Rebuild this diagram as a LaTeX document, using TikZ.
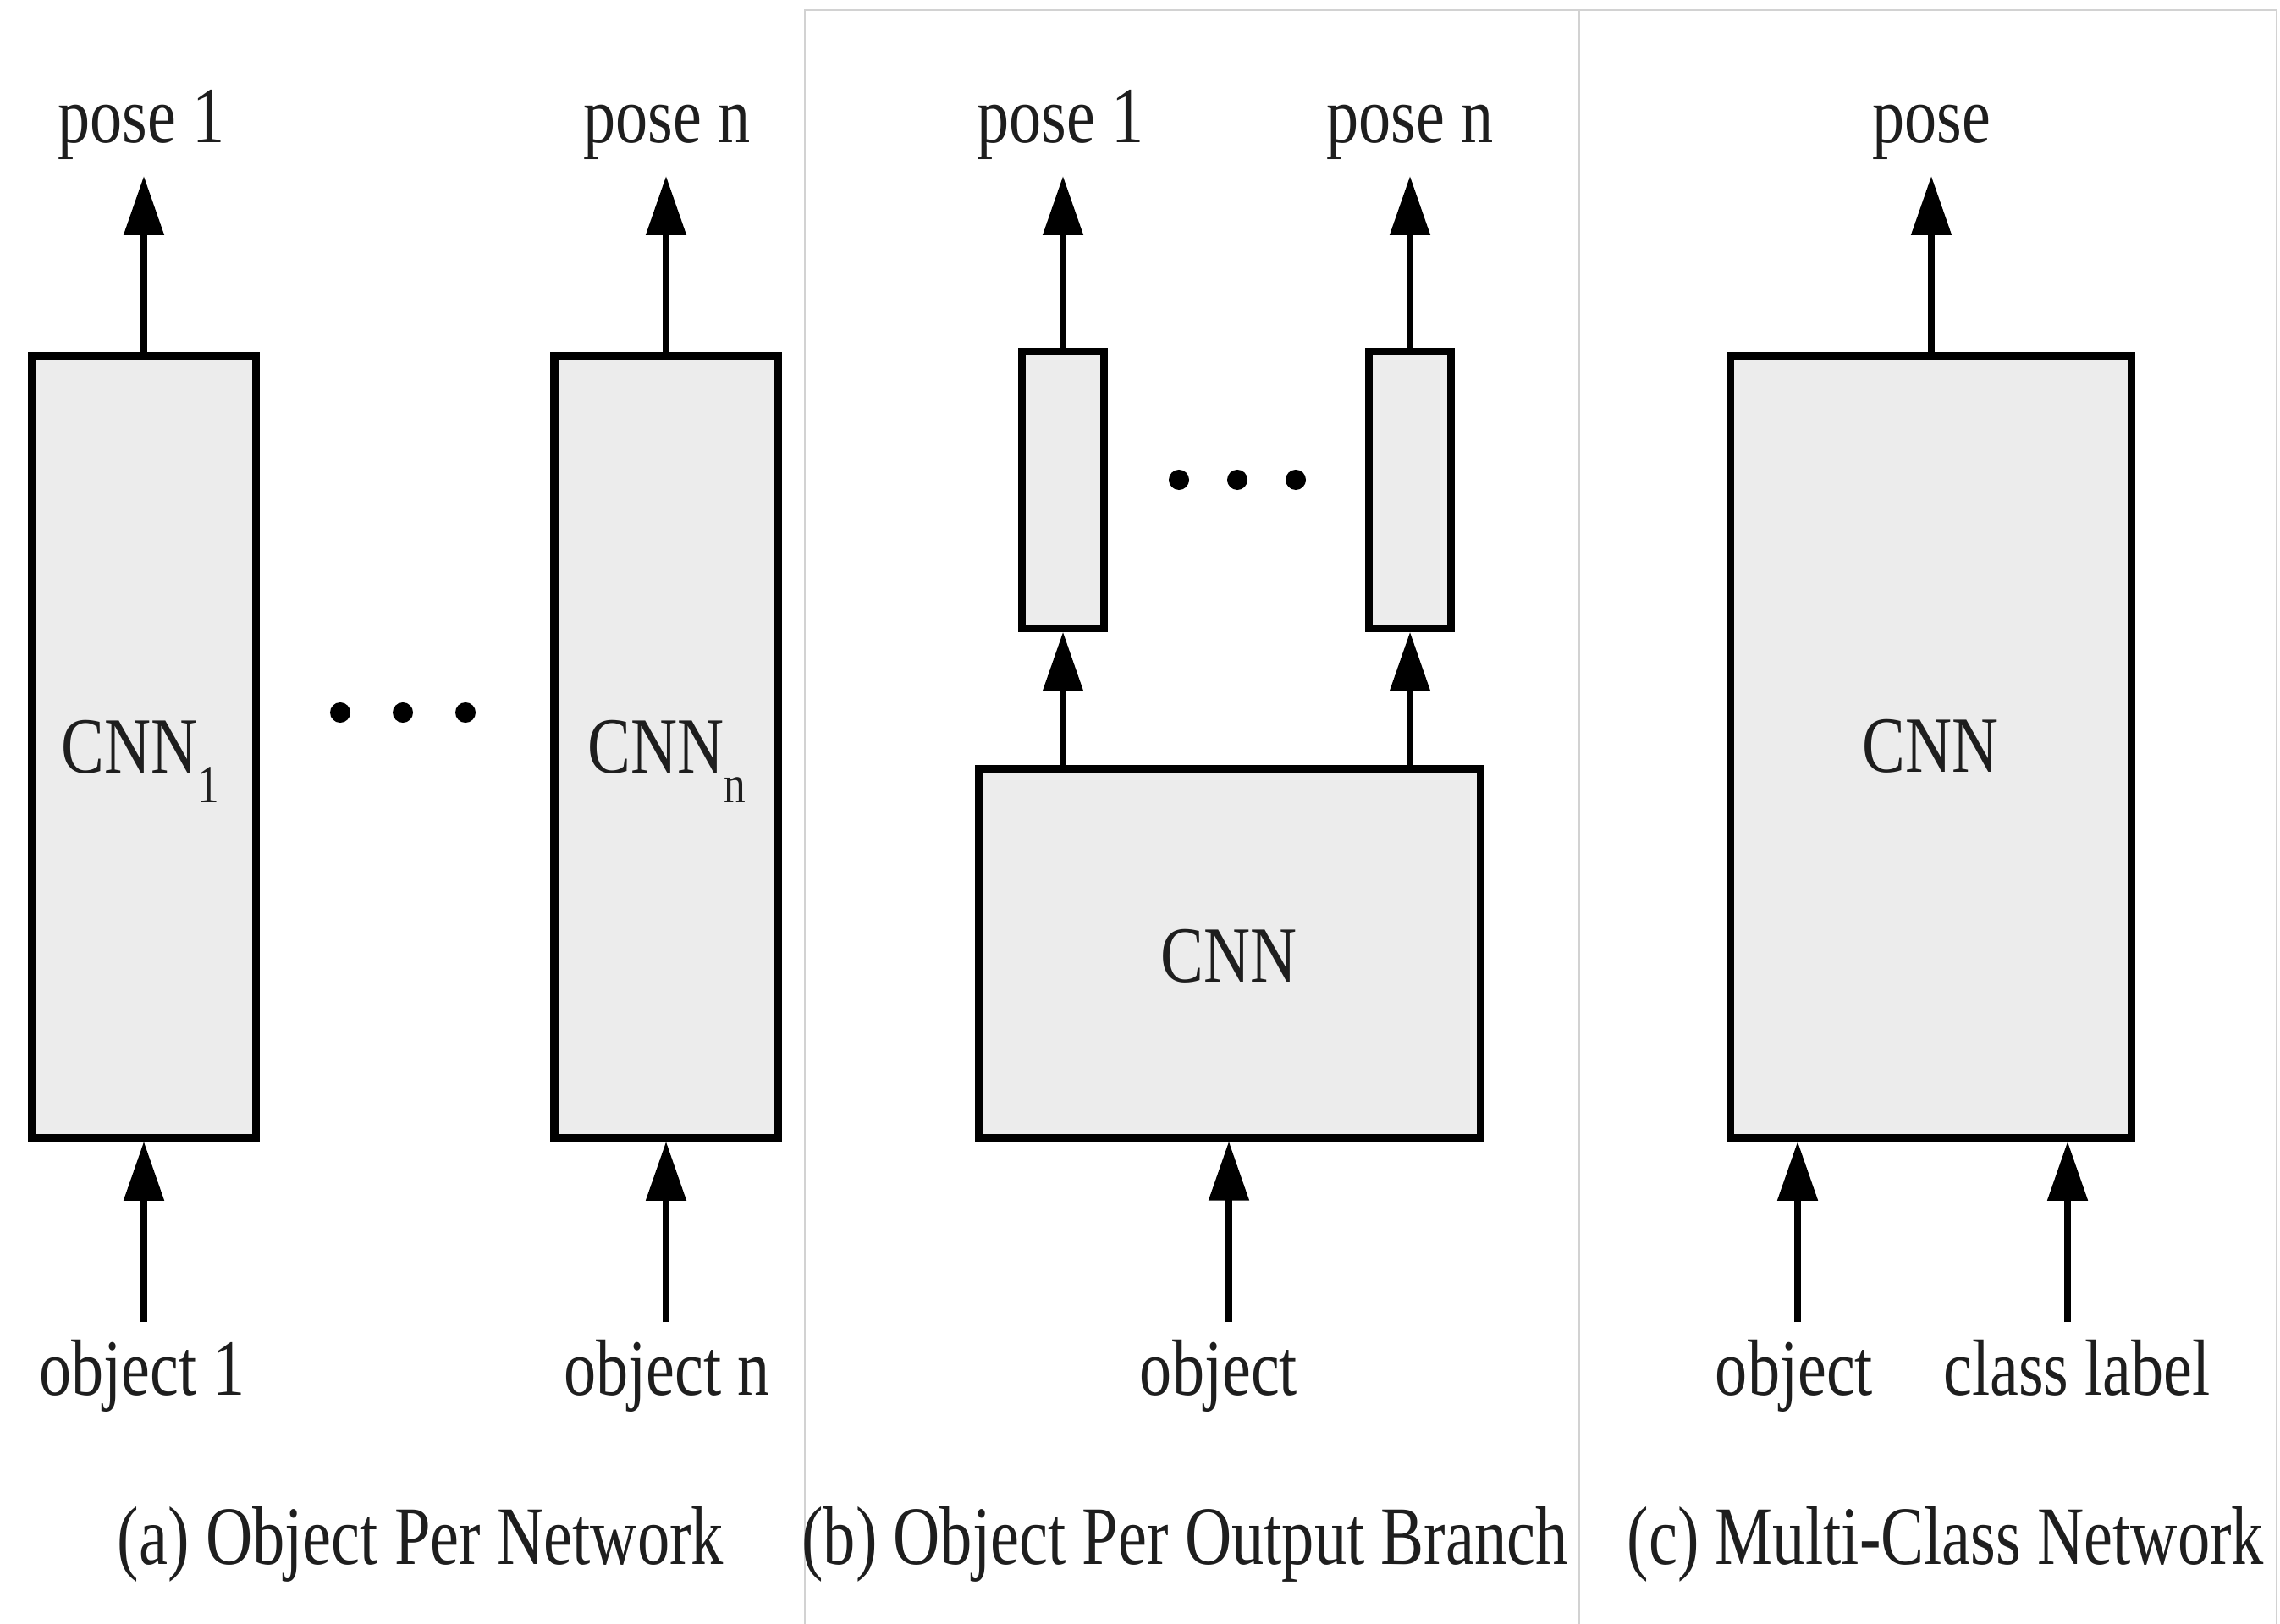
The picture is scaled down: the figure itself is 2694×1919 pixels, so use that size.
\documentclass[tikz,border=0pt]{standalone}
\usepackage{fontspec}
\setmainfont{Liberation Serif}
\newfontfamily\labelserif[FakeStretch=0.81]{Liberation Serif}
\newfontfamily\captionserif[FakeStretch=0.78]{Liberation Serif}
\usetikzlibrary{arrows.meta}
\definecolor{boxfill}{HTML}{ECECEC}
\definecolor{framegray}{HTML}{D2D2D2}
\definecolor{ink}{HTML}{1E1E1E}

\begin{document}
\begin{tikzpicture}[x=0.01cm,y=-0.01cm,
  netbox/.style={draw=black, fill=boxfill, line width=2.6pt, inner sep=0pt},
  flow/.style={line width=2.3pt, -{Triangle[length=19.9pt,width=13.1pt]}},
  lbl/.style={inner sep=0pt, anchor=base, text=ink,
    font=\labelserif\fontsize{26.75}{30}\selectfont},
  subcaption/.style={inner sep=0pt, anchor=base, text=ink,
    font=\captionserif\fontsize{27.9}{32}\selectfont},
  dotmark/.style={circle, fill=black, inner sep=0pt, minimum size=0.24cm},
  panelframe/.style={draw=framegray, line width=0.6pt}]

\useasboundingbox (0,0) rectangle (2694,1919);

% panel frames (b) and (c)
\draw[panelframe] (951,1919) -- (951,12) -- (1866,12) -- (1866,1919);
\draw[panelframe] (1866,12) -- (2690,12) -- (2690,1919);

% ---------- (a) one network per object ----------
\node[netbox, minimum width=2.64cm, minimum height=9.23cm] (a1) at (170,882.5) {};
\node[netbox, minimum width=2.64cm, minimum height=9.23cm] (an) at (787,882.5) {};
\node[lbl] (a1t) at (166,913) {CNN\raisebox{-10pt}{\fontsize{18}{18}\selectfont 1}};
\node[lbl] (ant) at (788,913) {CNN\raisebox{-10pt}{\fontsize{18}{18}\selectfont n}};
\node[dotmark] (ad1) at (402,842) {};
\node[dotmark] (ad2) at (476,842) {};
\node[dotmark] (ad3) at (550,842) {};

\coordinate (pa1) at (170,208);
\coordinate (pan) at (787,208);
\draw[flow] (a1.north) -- (pa1);
\draw[flow] (an.north) -- (pan);
\node[lbl] (pa1t) at (167,169) {pose 1};
\node[lbl] (pant) at (788,169) {pose n};

\coordinate (oa1) at (170,1562);
\coordinate (oan) at (787,1562);
\draw[flow] (oa1) -- (a1.south);
\draw[flow] (oan) -- (an.south);
\node[lbl] (oa1t) at (168,1648) {object 1};
\node[lbl] (oant) at (788,1648) {object n};

\node[subcaption] (capa) at (497,1848) {(a) Object Per Network};

% ---------- (b) one output branch per object ----------
\node[netbox, minimum width=5.92cm, minimum height=4.35cm] (bb) at (1453,1126.5) {};
\node[netbox, minimum width=0.97cm, minimum height=3.26cm] (b1) at (1256,579) {};
\node[netbox, minimum width=0.97cm, minimum height=3.26cm] (bn) at (1666,579) {};
\node[lbl] (bbt) at (1452,1160) {CNN};
\node[dotmark] (bd1) at (1393,567) {};
\node[dotmark] (bd2) at (1462,567) {};
\node[dotmark] (bd3) at (1531,567) {};

\draw[flow] (b1.south |- bb.north) -- (b1.south);
\draw[flow] (bn.south |- bb.north) -- (bn.south);

\coordinate (pb1) at (1256,208);
\coordinate (pbn) at (1666,208);
\draw[flow] (b1.north) -- (pb1);
\draw[flow] (bn.north) -- (pbn);
\node[lbl] (pb1t) at (1253,169) {pose 1};
\node[lbl] (pbnt) at (1666,169) {pose n};

\coordinate (ob) at (1452,1562);
\draw[flow] (ob) -- (ob |- bb.south);
\node[lbl] (obt) at (1440,1648) {object};

\node[subcaption] (capb) at (1400,1848) {(b) Object Per Output Branch};

% ---------- (c) single multi-class network ----------
\node[netbox, minimum width=4.73cm, minimum height=9.23cm] (cc) at (2281.5,882.5) {};
\node[lbl] (cct) at (2281,912) {CNN};

\coordinate (pc) at (2282,208);
\draw[flow] (pc |- cc.north) -- (pc);
\node[lbl] (pct) at (2282,169) {pose};

\coordinate (oc1) at (2124,1562);
\coordinate (oc2) at (2443,1562);
\draw[flow] (oc1) -- (oc1 |- cc.south);
\draw[flow] (oc2) -- (oc2 |- cc.south);
\node[lbl] (oc1t) at (2120,1648) {object};
\node[lbl] (oc2t) at (2454,1648) {class label};

\node[subcaption] (capc) at (2299,1848) {(c) Multi-Class Network};

\end{tikzpicture}
\end{document}
